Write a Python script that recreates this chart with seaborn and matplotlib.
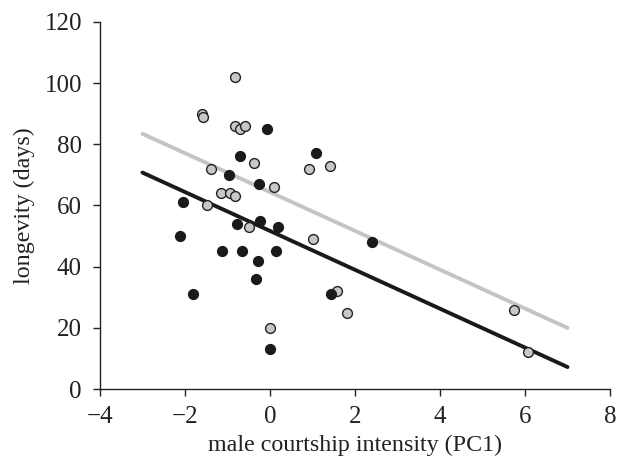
import pandas as pd
import numpy as np
import seaborn as sns
import matplotlib.pyplot as plt

# black group
black_x = [-0.08, -0.70, 1.08, -0.96, -0.25, -2.04, -2.11, -0.78, -0.24, 0.18,
           -1.14, -0.65, 0.13, -0.29, -0.34, -1.81, 1.44, 2.39, 0.00]
black_y = [85, 76, 77, 70, 67, 61, 50, 54, 55, 53,
           45, 45, 45, 42, 36, 31, 31, 48, 13]

# grey group
grey_x = [-0.83, -1.60, -1.58, -0.83, -0.71, -0.59, -0.38, -1.39, 0.92, 1.41,
          0.10, -1.15, -0.93, -0.83, -1.47, -0.49, 1.02, 1.58, 1.81, 0.00,
          5.73, 6.06]
grey_y = [102, 90, 89, 86, 85, 86, 74, 72, 72, 73,
          66, 64, 64, 63, 60, 53, 49, 32, 25, 20,
          26, 12]

# fitted lines (intercept, slope)
fit_range = [-3, 7]
grey_fit = (64.4, -6.34)
black_fit = (51.7, -6.35)

sns.set_style("ticks")
plt.rcParams["font.family"] = "serif"
plt.rcParams["font.serif"] = ["Liberation Serif", "DejaVu Serif"]

fig = plt.figure(figsize=(6.17, 4.59), dpi=100)
ax = fig.add_axes([0.162, 0.152, 0.8267, 0.8006])

#regression lines first so the dots sit on top
xs = np.array(fit_range)
ax.plot(xs, grey_fit[0] + grey_fit[1] * xs, color="#c4c4c4", lw=2.8, zorder=1)
ax.plot(xs, black_fit[0] + black_fit[1] * xs, color="#1a1a1a", lw=2.8, zorder=1)

grey = pd.DataFrame({"pc1": grey_x, "longevity": grey_y})
black = pd.DataFrame({"pc1": black_x, "longevity": black_y})

sns.scatterplot(data=grey, x="pc1", y="longevity", ax=ax, color="#c8c8c8",
                edgecolor="#222222", linewidth=1.0, s=50, zorder=3)
sns.scatterplot(data=black, x="pc1", y="longevity", ax=ax, color="#1a1a1a",
                edgecolor="#1a1a1a", linewidth=1.0, s=50, zorder=4)

ax.set_xlim(-4, 8)
ax.set_ylim(0, 120)
ax.set_xticks([-4, -2, 0, 2, 4, 6, 8])
ax.set_xticklabels(["\u22124", "\u22122", "0", "2", "4", "6", "8"])
ax.set_yticks([0, 20, 40, 60, 80, 100, 120])
ax.tick_params(direction="out", length=5, width=1, labelsize=18, colors="#222222")
ax.tick_params(axis="y", pad=8)
ax.tick_params(axis="x", pad=7)
for side in ["left", "bottom"]:
    ax.spines[side].set_linewidth(1)
    ax.spines[side].set_color("#222222")
sns.despine(ax=ax)

ax.set_xlabel("male courtship intensity (PC1)", fontsize=17.3, color="#222222", labelpad=5)
ax.set_ylabel("longevity (days)", fontsize=17.3, color="#222222", labelpad=7)

fig.savefig("out.png", dpi=100)
